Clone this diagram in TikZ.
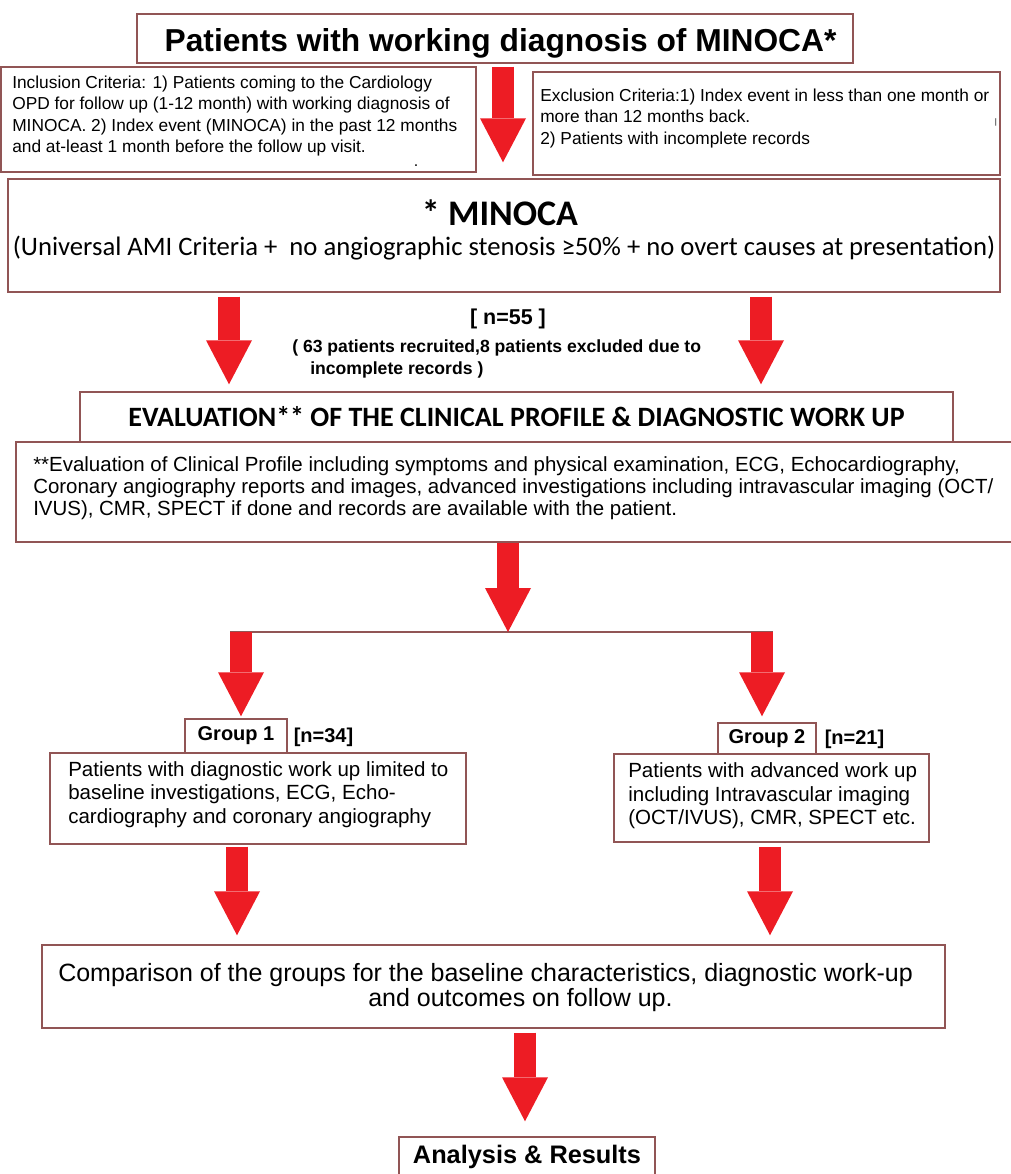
\documentclass[tikz,border=0pt]{standalone}
\usepackage{fontspec}
\setmainfont{Liberation Sans}
\newfontfamily\calfont{Carlito}
\usetikzlibrary{arrows.meta,calc}
\definecolor{arrred}{RGB}{237,28,36}
\definecolor{boxc}{RGB}{145,85,85}
\newcommand\fpt[2]{\fontsize{#1pt}{#2pt}\selectfont}
\begin{document}
\begin{tikzpicture}[x=0.75pt,y=-0.75pt,
  box/.style={draw=boxc, line width=1.1pt, inner sep=0pt},
  txt/.style={inner sep=0pt, align=left},
  bigarrow/.style={draw=arrred, line width=16.5pt,
    -{Triangle[length=33pt 0, width=34.5pt 0, line width=0pt]}},
  joinline/.style={draw=boxc, line width=1.1pt}]
\fill[white] (0,0) rectangle (1010,1174);
\useasboundingbox (0,0) rectangle (1010,1174);

% title
\node[box, minimum width=716*0.75pt, minimum height=49*0.75pt] (title) at (495,38.5) {};
\node[txt, font=\bfseries\fpt{23.8}{28}] (titletext) at (500.5,43) {Patients with working diagnosis of MINOCA*};

% inclusion / exclusion
\node[box, minimum width=475*0.75pt, minimum height=105*0.75pt] (incl) at (238.5,119.5) {};
\node[txt, anchor=west, font=\fpt{13}{16.1}] (incltext) at (12,116) {Inclusion Criteria: 1) Patients coming to the Cardiology\\OPD for follow up (1-12 month) with working diagnosis of\\MINOCA. 2) Index event (MINOCA) in the past 12 months\\and at-least 1 month before the follow up visit.};
\node[txt, font=\fpt{12}{14}] (dot1) at (416,166) {.};

\node[box, minimum width=467*0.75pt, minimum height=103*0.75pt] (excl) at (766.5,123.5) {};
\node[txt, anchor=west, font=\fpt{13}{16.1}] (excltext) at (540,118.5) {Exclusion Criteria:1) Index event in less than one month or\\more than 12 months back.\\2) Patients with incomplete records};
\node[txt, font=\fpt{6}{7}] (tick) at (996,122) {|};

% MINOCA definition
\node[box, minimum width=992*0.75pt, minimum height=113*0.75pt] (minoca) at (504,235.5) {};
\node[txt, font=\calfont\bfseries\fpt{27}{30}] (minocat) at (500,213) {* MINOCA};
\node[txt, font=\calfont\fpt{20}{24}] (minocad) at (504,248) {(Universal AMI Criteria +\ \ no angiographic stenosis ≥50\% + no overt causes at presentation)};

% n = 55
\node[txt, font=\bfseries\fpt{16.1}{19}] (n55) at (508,319) {[ n=55 ]};
\node[txt, anchor=west, font=\bfseries\fpt{13.2}{16.5}] (recr) at (292,359) {( 63 patients recruited,8 patients excluded due to\\\hspace*{13.5pt}incomplete records )};

% evaluation
\node[box, minimum width=873*0.75pt, minimum height=50*0.75pt, font=\calfont\bfseries\fpt{21}{25}] (evalh) at (516.5,417) {EVALUATION** OF THE CLINICAL PROFILE \& DIAGNOSTIC WORK UP};
\node[box, minimum width=999*0.75pt, minimum height=100*0.75pt] (evald) at (515.5,492) {};
\node[txt, anchor=west, font=\fpt{15.35}{16.5}] (evaldtext) at (33,488) {**Evaluation of Clinical Profile including symptoms and physical examination, ECG, Echocardiography,\\Coronary angiography reports and images, advanced investigations including intravascular imaging (OCT/\\IVUS), CMR, SPECT if done and records are available with the patient.};

% junction
\coordinate (jl) at (230,632);
\coordinate (jr) at (773,632);
\coordinate (jm) at (508,632);
\draw[joinline] (jl) -- (jr);

% groups
\node[box, minimum width=102*0.75pt, minimum height=34*0.75pt, font=\bfseries\fpt{15}{18}] (g1label) at (236,736) {Group 1};
\node[txt, font=\bfseries\fpt{15}{18}] (g1n) at (323.5,737) {[n=34]};
\node[box, minimum width=416*0.75pt, minimum height=91*0.75pt] (g1box) at (258,798.5) {};
\node[txt, anchor=west, font=\fpt{15.4}{17.6}] (g1text) at (68,794.5) {Patients with diagnostic work up limited to\\baseline investigations, ECG, Echo-\\cardiography and coronary angiography};

\node[box, minimum width=98*0.75pt, minimum height=31*0.75pt, font=\bfseries\fpt{15}{18}] (g2label) at (767,738.5) {Group 2};
\node[txt, font=\bfseries\fpt{15}{18}] (g2n) at (854.5,739) {[n=21]};
\node[box, minimum width=315*0.75pt, minimum height=88*0.75pt] (g2box) at (771.5,798) {};
\node[txt, anchor=west, font=\fpt{15.4}{17.6}] (g2text) at (628,796) {Patients with advanced work up\\including Intravascular imaging\\(OCT/IVUS), CMR, SPECT etc.};

% comparison
\node[box, minimum width=903*0.75pt, minimum height=83*0.75pt] (comp) at (493.5,986.5) {};
\node[txt, anchor=west, font=\fpt{18.75}{18.75}] (comptext) at (58,988) {Comparison of the groups for the baseline characteristics, diagnostic work-up\\\hspace*{232.5pt}and outcomes on follow up.};

% analysis
\node[box, minimum width=256*0.75pt, minimum height=40*0.75pt, font=\bfseries\fpt{19}{22}] (analysis) at (527,1157) {Analysis \& Results};

% block arrows
\draw[bigarrow] ($(title.south)+(8,3)$) -- ($(minoca.north)+(-1,-16)$);
\draw[bigarrow] ($(minoca.south)+(-275,4)$) -- ($(evalh.north)+(-287.5,-7)$);
\draw[bigarrow] ($(minoca.south)+(257,4)$) -- ($(evalh.north)+(244.5,-7)$);
\draw[bigarrow] ($(evald.south)+(-7.5,0)$) -- (jm);
\draw[bigarrow] ($(jl)+(11,0)$) -- ($(g1label.north)+(5,-2)$);
\draw[bigarrow] ($(jr)+(-11,0)$) -- ($(g2label.north)+(-5,-6)$);
\draw[bigarrow] ($(g1box.south)+(-21,2)$) -- ($(comp.north)+(-256.5,-9)$);
\draw[bigarrow] ($(g2box.south)+(-1.5,4)$) -- ($(comp.north)+(276.5,-9)$);
\draw[bigarrow] ($(comp.south)+(31.5,4)$) -- ($(analysis.north)+(-2,-15)$);
\end{tikzpicture}
\end{document}
